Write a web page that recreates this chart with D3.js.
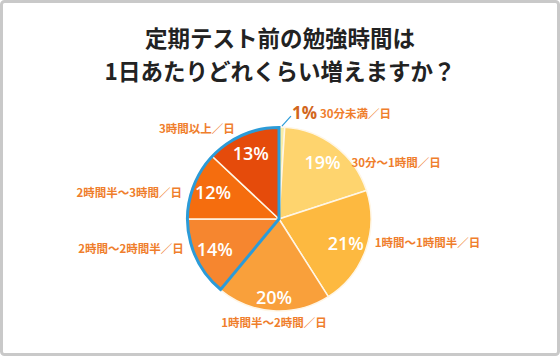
<!DOCTYPE html>
<html><head><meta charset="utf-8">
<script src="https://cdn.jsdelivr.net/npm/d3@7"></script>
<style>html,body{margin:0;padding:0;background:#fff;}svg{display:block;}</style>
</head><body>
<svg id="c" width="560" height="356"></svg>
<script>
const titleLines = ["定期テスト前の勉強時間は", "1日あたりどれくらい増えますか？"];
const categories = ["30分未満／日", "30分～1時間／日", "1時間～1時間半／日", "1時間半～2時間／日", "2時間～2時間半／日", "2時間半～3時間／日", "3時間以上／日"];
const values = [1, 19, 21, 20, 14, 12, 13];
const colors = ["#F7EDA6", "#FED46E", "#FDB940", "#F9A03B", "#F6862F", "#F56D0E", "#E54B0B"];
const placement = ["outside", "right", "right", "below", "left", "left", "aboveLeft"];
const highlighted = [4, 5, 6];

const svg = d3.select("#c");
const W = 560, H = 356;
svg.append("rect").attr("x", 1.5).attr("y", 1.5).attr("width", W - 3).attr("height", H - 3)
  .attr("rx", 3).attr("fill", "#fff").attr("stroke", "#c9c9c9").attr("stroke-width", 3);

const font = "'Noto Sans CJK JP', 'Noto Sans', sans-serif";
const numFont = "'Open Sans', 'Noto Sans', sans-serif";
svg.selectAll("text.title").data(titleLines).join("text").attr("class", "title")
  .attr("x", 280).attr("y", (d, i) => 47 + i * 33)
  .attr("text-anchor", "middle").attr("font-family", font).attr("font-weight", 700)
  .attr("font-size", 22.5).attr("fill", "#222").text(d => d);

const cx = 279, cy = 219, R = 92;
const g = svg.append("g").attr("transform", `translate(${cx},${cy})`);
const pie = d3.pie().sort(null).value(d => d);
const arcs = pie(values);
const arc = d3.arc().innerRadius(0).outerRadius(R);
const labelR = m => (m === "below" ? 79 : 71);

g.selectAll("path.slice").data(arcs).join("path").attr("class", "slice")
  .attr("d", arc).attr("fill", (d, i) => colors[i])
  .attr("stroke", "#FFF6E6").attr("stroke-width", 1.5).attr("stroke-linejoin", "round");

// highlighted group outline
const hi = highlighted.map(i => arcs[i]);
const hiArc = d3.arc().innerRadius(0).outerRadius(R - 0.5)
  .startAngle(d3.min(hi, d => d.startAngle)).endAngle(d3.max(hi, d => d.endAngle));
g.append("path").attr("d", hiArc()).attr("fill", "none")
  .attr("stroke", "#2B9BD8").attr("stroke-width", 3).attr("stroke-linejoin", "miter");

const pctText = d => d + "%";
arcs.forEach((a, i) => {
  const mode = placement[i];
  if (mode === "outside") {
    const mid = (a.startAngle + a.endAngle) / 2;
    const p0 = [Math.sin(mid) * (R + 1), -Math.cos(mid) * (R + 1)];
    const p1 = [p0[0] + 9, p0[1] - 10];
    g.append("line").attr("x1", p0[0]).attr("y1", p0[1]).attr("x2", p1[0]).attr("y2", p1[1])
      .attr("stroke", "#2B9BD8").attr("stroke-width", 1.2);
    g.append("text").attr("x", p1[0] + 1).attr("y", p1[1] + 3)
      .attr("font-family", numFont).attr("font-weight", 700).attr("font-size", 17)
      .attr("fill", "#D2661C").text(pctText(values[i]));
    g.append("text").attr("x", p1[0] + 29).attr("y", p1[1] + 2)
      .attr("font-family", font).attr("font-weight", 700).attr("font-size", 11.5)
      .attr("fill", "#EF7E2C").text(categories[i]);
    return;
  }
  const lr = labelR(mode);
  const [x, y] = d3.arc().innerRadius(lr).outerRadius(lr).centroid(a);
  g.append("text").attr("x", x).attr("y", y).attr("dy", "0.36em").attr("text-anchor", "middle")
    .attr("font-family", numFont).attr("font-weight", 600).attr("font-size", 18)
    .attr("fill", "#fff").text(pctText(values[i]));
  let lx = x, ly = y, anchor = "middle";
  if (mode === "right") { lx = x + 29; anchor = "start"; }
  else if (mode === "left") { lx = x - 31; anchor = "end"; }
  else if (mode === "below") { ly = y + 25; }
  else if (mode === "aboveLeft") { lx = x - 16; ly = y - 25; anchor = "end"; }
  g.append("text").attr("x", lx).attr("y", ly).attr("dy", "0.36em").attr("text-anchor", anchor)
    .attr("font-family", font).attr("font-weight", 700).attr("font-size", 11.5)
    .attr("fill", "#EF7E2C").text(categories[i]);
});
</script>
</body></html>
